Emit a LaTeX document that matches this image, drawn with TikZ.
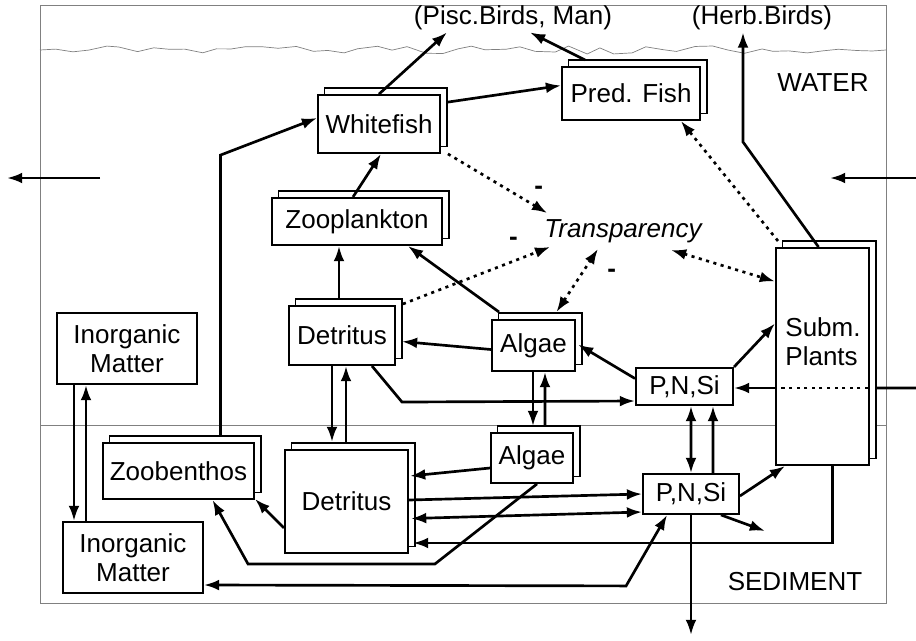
\documentclass[tikz,border=0pt]{standalone}
\usepackage{fontspec}
\setmainfont{Liberation Sans}
\usetikzlibrary{arrows.meta,calc,decorations.pathmorphing,shadows}

\begin{document}
\begin{tikzpicture}[x=0.025cm,y=-0.025cm,
  box/.style={draw,fill=white,line width=1.3pt,inner sep=0pt,align=center,
    font=\fontsize{18.5}{20.6}\selectfont},
  stack/.style={box,copy shadow={shadow xshift=0.17cm,shadow yshift=0.17cm,
    draw=black,fill=white,line width=1pt}},
  txt/.style={inner sep=0pt,font=\fontsize{18.5}{20.6}\selectfont},
  ln/.style={line width=1.9pt},
  arr/.style={ln,-{Latex[length=3.8mm,width=2.7mm]}},
  arrs/.style={ln,{Latex[length=3.8mm,width=2.7mm]}-{Latex[length=3.8mm,width=2.7mm]}},
  infl/.style={line width=1.9pt,dash pattern=on 2.2pt off 3.2pt},
  minus/.style={inner sep=0pt,font=\fontsize{18.5}{20.6}\selectfont\bfseries}]
  \useasboundingbox (0,0) rectangle (916,640);
  % frame, water surface and sediment border
  \draw[gray,line width=0.5pt] (40,5) rectangle (886,603);
  \draw[gray,line width=0.5pt] (40,425) -- (886,425);
  \pgfmathsetseed{7}
  \draw[gray,line width=0.5pt,decorate,
    decoration={random steps,segment length=0.4cm,amplitude=0.1cm}] (40,50) -- (886,50);
  \node[txt] (pisc) at (513,18) {(Pisc.Birds, Man)};
  \node[txt] (herb) at (762,18) {(Herb.Birds)};
  \node[txt] (water) at (823,83) {WATER};
  \node[txt] (sediment) at (795,582) {SEDIMENT};
  \node[txt,font=\fontsize{18.5}{20.6}\selectfont\itshape] (transp) at (623,231) {Transparency};
  % compartments
  \node[stack,minimum width=3.05cm,minimum height=1.45cm] (whitefish) at (379,124) {Whitefish};
  \node[stack,minimum width=3.45cm,minimum height=1.33cm] (predfish) at (631,93.5) {Pred. Fish};
  \node[stack,minimum width=4.25cm,minimum height=1.18cm] (zooplankton) at (357,221.5) {Zooplankton};
  \node[stack,minimum width=2.65cm,minimum height=1.48cm] (detw) at (342,335.5) {Detritus};
  \node[stack,minimum width=2.08cm,minimum height=1.28cm] (algaew) at (533.5,345.5) {Algae};
  \node[box,minimum width=2.43cm,minimum height=0.93cm] (pnsw) at (684.5,386.5) {P,N,Si};
  \node[stack,minimum width=2.33cm,minimum height=5.43cm] (plants) at (822.5,356.5) {};
  \node[txt,align=left] (plantslabel) at (823,342) {Subm.\\Plants};
  \node[box,minimum width=3.5cm,minimum height=1.78cm] (inorgw) at (127,348.5) {Inorganic\\Matter};
  \node[box,minimum width=3.5cm,minimum height=1.78cm] (inorgs) at (133,557.5) {Inorganic\\Matter};
  \node[stack,minimum width=3.78cm,minimum height=1.4cm] (zoobenthos) at (178.5,471) {Zoobenthos};
  \node[stack,minimum width=3.08cm,minimum height=2.58cm] (dets) at (346.5,501.5) {Detritus};
  \node[stack,minimum width=2.05cm,minimum height=1.25cm] (algaes) at (532,458) {Algae};
  \node[box,minimum width=2.4cm,minimum height=1cm] (pnss) at (691,494) {P,N,Si};
  % water column
  \draw[arr] (whitefish.north) -- ($(pisc.south)+(-66,2)$);
  \draw[arr] ($(predfish.north)+(-46,-6)$) -- ($(pisc.south)+(17,2)$);
  \draw[arr] ($(whitefish.north east)+(7,8)$) -- ($(predfish.west)+(0,-8)$);
  \draw[arr] ($(zooplankton.north)+(-4,0)$) -- ($(whitefish.south)+(2,0)$);
  \draw[arr] ($(zoobenthos.north)+(42,-6)$) -- ++(0,-281) -- ($(whitefish.west)+(0,-6)$);
  \draw[arr] ($(detw.north)+(-3,-7)$) -- ($(zooplankton.south)+(-18,0)$);
  \draw[arr] ($(algaew.north west)+(8,-7)$) -- ($(zooplankton.south east)+(-35,0)$);
  \draw[arr] ($(algaew.west)+(0,4)$) -- ($(detw.east)+(6,6)$);
  \draw[arr] ($(pnsw.west)+(0,-8)$) -- ($(algaew.east)+(2,-1)$);
  \draw[arr] (pnsw.north east) -- ($(plants.west)+(0,-33)$);
  \draw[arr] ($(detw.south)+(30,0)$) -- ++(30,36) -- ($(pnsw.west)+(0,14.5)$);
  \draw[arr] ($(plants.north)+(-4,0)$) -- ++(-75.5,-105) -- ($(herb.south)+(-19,2)$);
  % transparency
  \draw[infl,arr] ($(plants.north west)+(3,-6)$) -- ($(predfish.south east)+(-20,0)$);
  \draw[infl,arrs] ($(transp.south)+(48,7)$) -- ($(plants.west)+(0,-75)$);
  \draw[infl,arr] ($(whitefish.south east)+(7,0)$) --
    node[minus,pos=0.8,above right=4pt] {-} ($(transp.north west)+(3,-6)$);
  \draw[infl,arr] ($(detw.north east)+(7,-1)$) --
    node[minus,pos=0.75,above=10pt] {-} ($(transp.south west)+(6,4)$);
  \draw[infl,arrs] ($(algaew.north)+(23,-7)$) --
    node[minus,pos=0.62,right=17pt] {-} ($(transp.south)+(-25,6)$);
  % inflows and outflows
  \coordinate (inR) at (916,388);
  \draw[ln] (inR) -- ($(plants.east)+(6,31.5)$);
  \draw[infl] ($(plants.east)+(-2,31.5)$) -- ($(plants.west)+(0,31.5)$);
  \draw[arr] ($(plants.west)+(0,31.5)$) -- ($(pnsw.east)+(0,1.5)$);
  \coordinate (inA) at (916,178);
  \coordinate (inB) at (830,178);
  \draw[arr] (inA) -- (inB);
  \coordinate (outA) at (100,178);
  \coordinate (outB) at (7,178);
  \draw[arr] (outA) -- (outB);
  % exchange with the sediment
  \draw[arr] ($(inorgw.south)+(-53,0)$) -- ($(inorgs.north)+(-59,0)$);
  \draw[arr] ($(inorgs.north)+(-47,0)$) -- ($(inorgw.south)+(-41,0)$);
  \draw[arr] ($(detw.south)+(-10,0)$) -- ($(dets.north)+(-14.5,-7)$);
  \draw[arr] ($(dets.north)+(-0.5,-7)$) -- ($(detw.south)+(4,0)$);
  \draw[arr] ($(algaew.south)+(-0.5,0)$) -- ($(algaes.north)+(1,-6)$);
  \draw[arr] ($(algaes.north)+(13,-6)$) -- ($(algaew.south)+(11.5,0)$);
  \draw[arrs] ($(pnsw.south)+(6.5,0)$) -- (pnss.north);
  \draw[arr] ($(pnss.north)+(22,0)$) -- ($(pnsw.south)+(28.5,0)$);
  % sediment
  \draw[arr] ($(algaes.west)+(0,10)$) -- ($(dets.east)+(1,-25.5)$);
  \draw[arr] ($(dets.east)+(0,-1.5)$) -- (pnss.west);
  \draw[arrs] ($(pnss.west)+(0,18)$) -- ($(dets.east)+(2,17)$);
  \draw[arr] ($(plants.south)+(10,0)$) |- ($(dets.east)+(4,41.5)$);
  \draw[arr] ($(algaes.south)+(5,0)$) -- ++(-102,80) -- ++(-187,0)
    -- ($(zoobenthos.south)+(34,0)$);
  \draw[arr] ($(dets.west)+(0,26.5)$) -- ($(zoobenthos.south east)+(0,-1)$);
  \draw[arrs] ($(pnss.south west)+(25,0)$) -- ++(-41,71) -- ($(inorgs.east)+(0,27.5)$);
  \coordinate (outD) at (691,635);
  \draw[arr] (pnss.south) -- (outD);
  \draw[arr] ($(pnss.east)+(0,2)$) -- ($(plants.south west)+(10,0)$);
  \coordinate (outE) at (765,531);
  \draw[arr] ($(pnss.south east)+(-19,0)$) -- (outE);
\end{tikzpicture}
\end{document}
